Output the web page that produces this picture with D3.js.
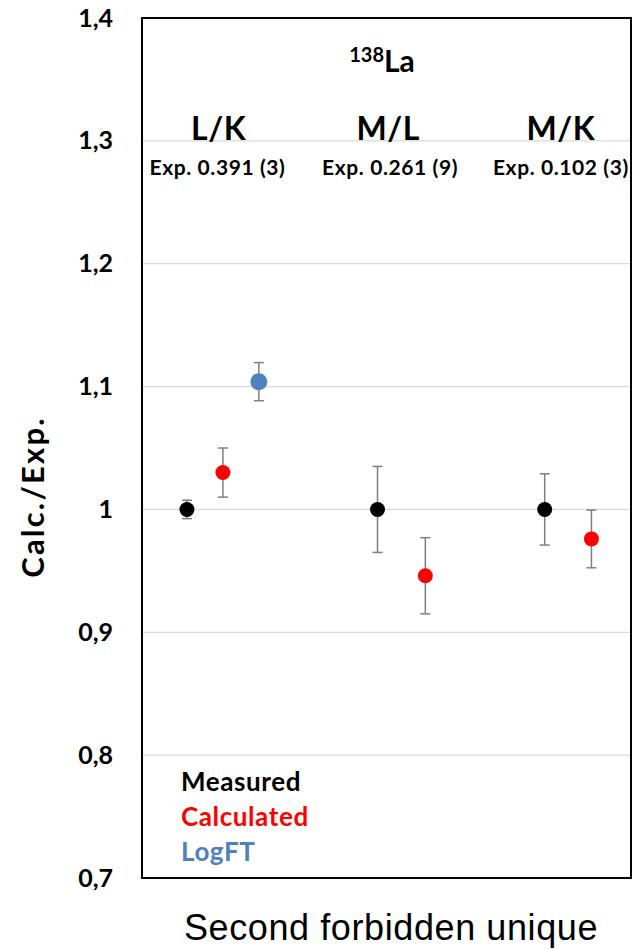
<!DOCTYPE html>
<html><head><meta charset="utf-8">
<script src="https://cdn.jsdelivr.net/npm/d3@7"></script>
<style>body{margin:0;background:#fff}svg{display:block}</style>
</head><body>
<svg id="c" width="634" height="949"></svg>
<script>
// ---- data ----
const yTicks = [0.7, 0.8, 0.9, 1.0, 1.1, 1.2, 1.3, 1.4];
const yTickLabels = ["0,7", "0,8", "0,9", "1", "1,1", "1,2", "1,3", "1,4"];
const ratios = ["L/K", "M/L", "M/K"];
const expLabels = ["Exp. 0.391 (3)", "Exp. 0.261 (9)", "Exp. 0.102 (3)"];
const seriesNames = ["Measured", "Calculated", "LogFT"];
// positions along a continuous x scale (0..13.6)
const measuredX = [1.25, 6.55, 11.2];
const measuredY = [1.0, 1.0, 1.0];
const measuredErr = [0.0075, 0.035, 0.029];
const calculatedX = [2.25, 7.88, 12.5];
const calculatedY = [1.03, 0.946, 0.976];
const calculatedErr = [0.02, 0.031, 0.0235];
const logftX = [3.25];
const logftY = [1.104];
const logftErr = [0.0155];
const groupLabelX = [2.13, 6.85, 11.65];
const expLabelX = [2.1, 6.9, 11.65];

const colors = {Measured: "#000000", Calculated: "#ff0000", LogFT: "#4f81bd"};

const svg = d3.select("#c");
const L = 142, R = 631, T = 18, B = 878;
const x = d3.scaleLinear().domain([0, 13.6]).range([L, R]);
const y = d3.scaleLinear().domain([0.7, 1.4]).range([B, T]);
const font = "Lato, 'Open Sans', sans-serif";

// gridlines
svg.append("g").selectAll("line").data(yTicks.filter(v => v > 0.7 && v < 1.4))
  .join("line").attr("x1", L).attr("x2", R)
  .attr("y1", d => y(d)).attr("y2", d => y(d))
  .attr("stroke", "#d9d9d9").attr("stroke-width", 1.3);

// frame
svg.append("rect").attr("x", L).attr("y", T).attr("width", R - L).attr("height", B - T)
  .attr("fill", "none").attr("stroke", "#000").attr("stroke-width", 2);

// y axis
const yAxis = d3.axisLeft(y).tickValues(yTicks).tickSize(0).tickPadding(29)
  .tickFormat((d, i) => yTickLabels[i]);
const ga = svg.append("g").attr("transform", `translate(${L},0)`).call(yAxis);
ga.select(".domain").remove();
ga.selectAll("text").attr("font-family", font).attr("font-weight", "bold")
  .attr("font-size", 25).attr("fill", "#000");

// y label
svg.append("text").attr("transform", `translate(44,497) rotate(-90)`)
  .attr("text-anchor", "middle").attr("font-family", font).attr("font-weight", "bold")
  .attr("font-size", 31).attr("letter-spacing", 2.2).text("Calc./Exp.");

// x label
svg.append("text").attr("x", 391).attr("y", 940).attr("text-anchor", "middle")
  .attr("font-family", "'Liberation Sans', Arial, sans-serif").attr("font-size", 36)
  .attr("letter-spacing", 0.6)
  .text("Second forbidden unique");

// title 138La
const t = svg.append("text").attr("x", 382).attr("y", 72).attr("text-anchor", "middle")
  .attr("font-family", font).attr("font-weight", "bold");
t.append("tspan").attr("font-size", 20).attr("dy", -10).text("138");
t.append("tspan").attr("font-size", 30).attr("dy", 10).text("La");

// ratio labels
svg.append("g").selectAll("text").data(ratios).join("text")
  .attr("x", (d, i) => x(groupLabelX[i])).attr("y", 140).attr("text-anchor", "middle")
  .attr("font-family", font).attr("font-weight", "bold").attr("font-size", 32)
  .attr("letter-spacing", 0.6).text(d => d);
svg.append("g").selectAll("text").data(expLabels).join("text")
  .attr("x", (d, i) => x(expLabelX[i])).attr("y", 175).attr("text-anchor", "middle")
  .attr("font-family", font).attr("font-weight", "bold").attr("font-size", 21)
  .attr("letter-spacing", 0.6).text(d => d);

// series
const series = [
  {name: "Measured", xs: measuredX, ys: measuredY, es: measuredErr, r: 7.5},
  {name: "Calculated", xs: calculatedX, ys: calculatedY, es: calculatedErr, r: 7.5},
  {name: "LogFT", xs: logftX, ys: logftY, es: logftErr, r: 8.5}
];
series.forEach(s => {
  const pts = s.xs.map((xv, i) => ({x: xv, y: s.ys[i], e: s.es[i]}));
  const g = svg.append("g");
  const eb = g.selectAll("g.eb").data(pts).join("g");
  eb.append("line").attr("x1", d => x(d.x)).attr("x2", d => x(d.x))
    .attr("y1", d => y(d.y + d.e)).attr("y2", d => y(d.y - d.e))
    .attr("stroke", "#7f7f7f").attr("stroke-width", 1.5);
  [1, -1].forEach(sg => {
    eb.append("line").attr("x1", d => x(d.x) - 5).attr("x2", d => x(d.x) + 5)
      .attr("y1", d => y(d.y + sg * d.e)).attr("y2", d => y(d.y + sg * d.e))
      .attr("stroke", "#7f7f7f").attr("stroke-width", 1.5);
  });
  g.selectAll("circle").data(pts).join("circle")
    .attr("cx", d => x(d.x)).attr("cy", d => y(d.y)).attr("r", s.r)
    .attr("fill", colors[s.name]);
});

// legend
svg.append("g").selectAll("text").data(seriesNames).join("text")
  .attr("x", 181).attr("y", (d, i) => 791 + i * 35)
  .attr("font-family", font).attr("font-weight", "bold").attr("font-size", 26)
  .attr("letter-spacing", 0.6)
  .attr("fill", d => colors[d]).text(d => d);
</script>
</body></html>
